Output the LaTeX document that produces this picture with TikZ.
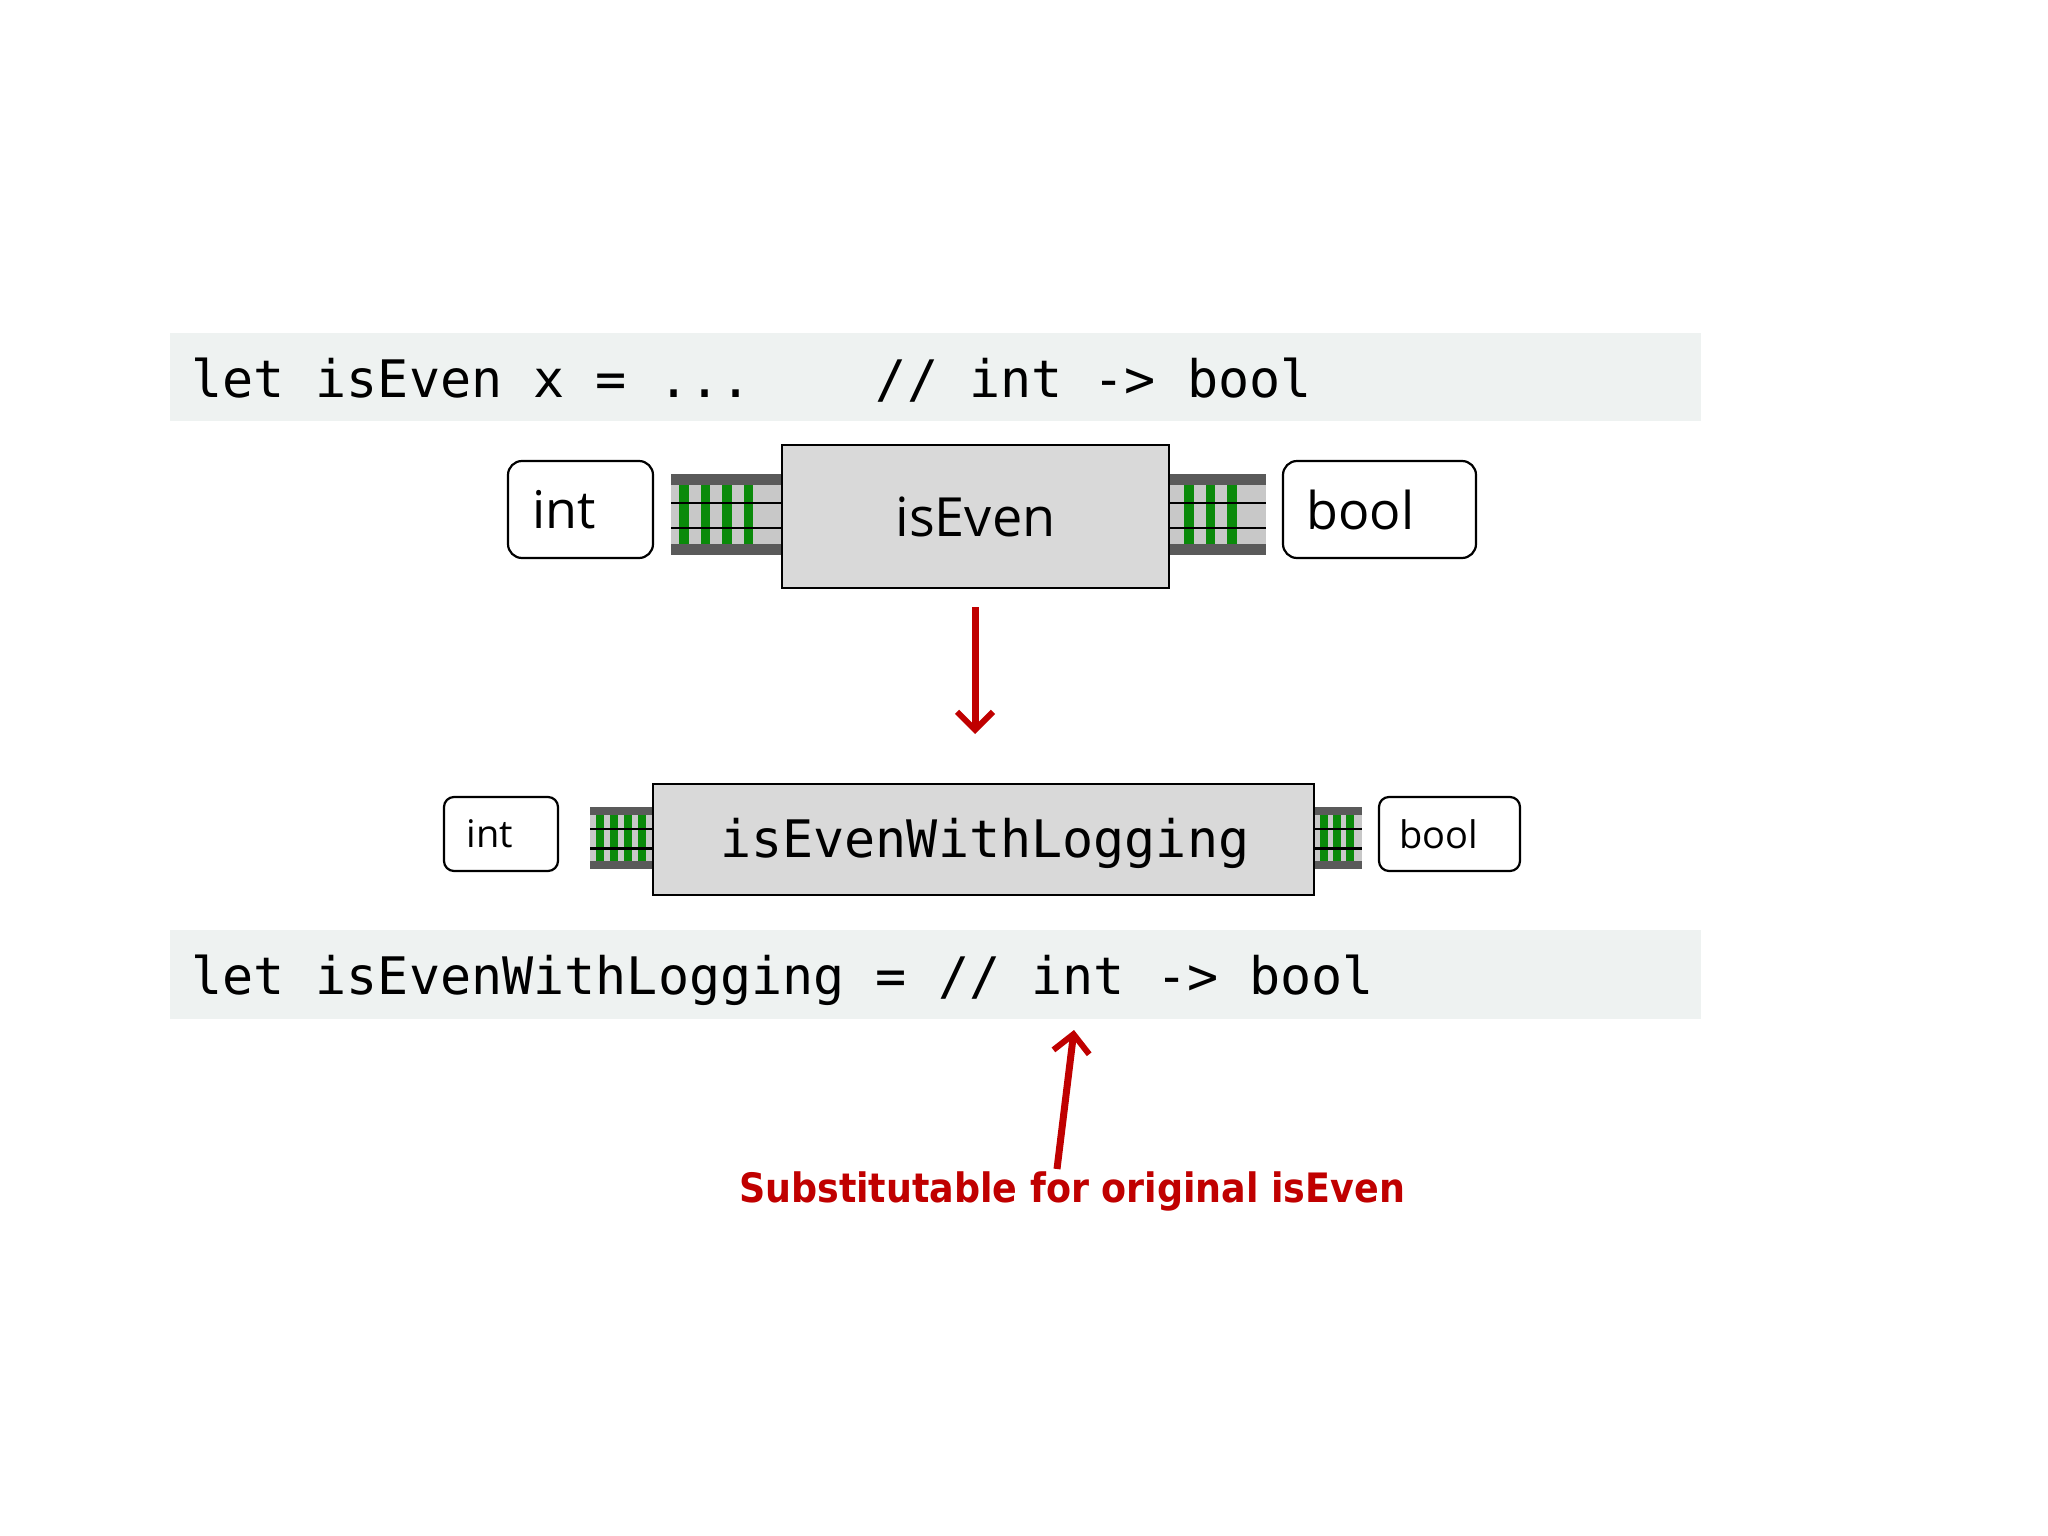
\documentclass[tikz,border=0pt]{standalone}
\usetikzlibrary{arrows.meta}
\usepackage{fontspec}
\setmainfont{Open Sans}
\newfontfamily\codefont{DejaVu Sans Mono}
\newfontfamily\handfont{DejaVu Sans Condensed}
\definecolor{band}{HTML}{EEF2F1}
\definecolor{boxgray}{HTML}{D9D9D9}
\definecolor{trk}{HTML}{C8C8C8}
\definecolor{trkdark}{HTML}{5A5A5A}
\definecolor{tie}{HTML}{0A8A0A}
\definecolor{redarrow}{HTML}{C00000}
\newcommand{\railtrack}[7]{% x1 x2 ytop ybot n offset spacing
  \fill[trk] (#1,#3) rectangle (#2,#4);
  \fill[trkdark] (#1,#3) rectangle (#2,{#3+0.13*(#4-#3)});
  \fill[trkdark] (#1,{#4-0.13*(#4-#3)}) rectangle (#2,#4);
  \foreach \i in {1,...,#5}{
    \fill[tie] ({#1+#6+(\i-1)*#7-0.06*(#4-#3)},{#3+0.13*(#4-#3)}) rectangle ({#1+#6+(\i-1)*#7+0.06*(#4-#3)},{#4-0.13*(#4-#3)});
  }
  \draw[black,line width=2.2pt] (#1,{#3+0.36*(#4-#3)}) -- (#2,{#3+0.36*(#4-#3)});
  \draw[black,line width=2.2pt] (#1,{#3+0.67*(#4-#3)}) -- (#2,{#3+0.67*(#4-#3)});
}
\begin{document}
\begin{tikzpicture}[x=1pt,y=-1pt,
  codeband/.style={fill=band,draw=none},
  codetxt/.style={anchor=base west,inner sep=0,font=\codefont\fontsize{51.7}{60}\selectfont},
  funbox/.style={draw=black,line width=2.2pt,fill=boxgray,inner sep=0},
  typebox/.style={draw=black,line width=2.2pt,fill=white,rounded corners=14pt,inner sep=0},
  redarr/.style={draw=redarrow,line width=7pt,-{Straight Barb[length=18pt,width=36pt,line width=6pt]}}]
\useasboundingbox (0,0) rectangle (2048,1536);
\fill[white] (0,0) rectangle (2048,1536);
% top band
\fill[codeband] (170,333) rectangle (1701,421);
\node[codetxt] (code1) at (191,397) {let isEven x = ...\ \ \ \ // int -> bool};
% top row
\railtrack{671}{782}{474}{555}{4}{13}{21.5}
\railtrack{1169}{1266}{474}{555}{3}{20}{21.5}
\node[funbox,minimum width=387pt,minimum height=143pt] (iseven) at (975.5,516.5) {\fontsize{54}{60}\selectfont isEven};
\node[typebox,minimum width=145pt,minimum height=97pt] (int1) at (580.5,509.5) {\hspace*{-32pt}\fontsize{52}{60}\selectfont int};
\node[typebox,minimum width=193pt,minimum height=97pt] (bool1) at (1379.5,509.5) {\hspace*{-38pt}\fontsize{52}{60}\selectfont bool};
% arrow down
\coordinate (a1) at (975,607);
\coordinate (a2) at (975,734);
\draw[redarr] (a1) -- (a2);
% lower row
\railtrack{590}{653}{807}{869}{4}{10}{14}
\railtrack{1314}{1362}{807}{869}{3}{10}{13}
\node[funbox,minimum width=661pt,minimum height=111pt] (iswl) at (983.5,839.5) {};
\node[codetxt] at (720,857) {isEvenWithLogging};
\node[typebox,minimum width=114pt,minimum height=74pt,rounded corners=10pt] (int2) at (501,834) {\hspace*{-22pt}\fontsize{38}{44}\selectfont int};
\node[typebox,minimum width=141pt,minimum height=74pt,rounded corners=10pt] (bool2) at (1449.5,834) {\hspace*{-22pt}\fontsize{38}{44}\selectfont bool};
% bottom band
\fill[codeband] (170,930) rectangle (1701,1019);
\node[codetxt] (code2) at (191,994) {let isEvenWithLogging = // int -> bool};
% annotation
\node[text=redarrow,font=\handfont\bfseries\fontsize{48}{54}\selectfont,inner sep=0] (note) at (1072,1191) {\resizebox{666pt}{!}{Substitutable for original isEven}};
\coordinate (b1) at (1057,1169);
\coordinate (b2) at (1074,1030);
\draw[redarr] (b1) -- (b2);
\end{tikzpicture}
\end{document}
